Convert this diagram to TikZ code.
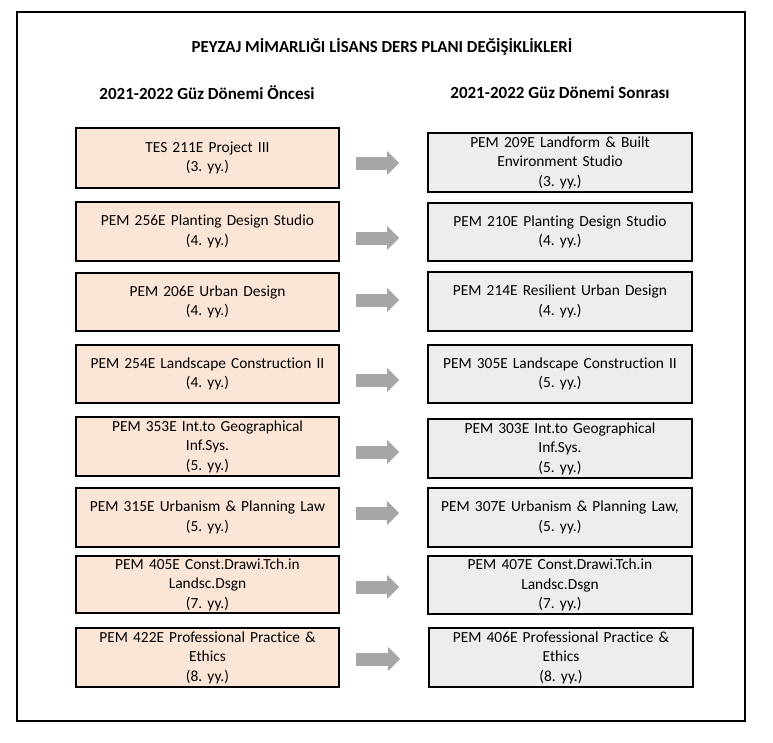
\documentclass[tikz,border=0pt]{standalone}
\usepackage{fontspec}
\setmainfont{Carlito}[Ligatures=NoCommon]
\usetikzlibrary{arrows.meta, positioning}
\frenchspacing
\definecolor{dpPeach}{HTML}{FBE5D6}
\definecolor{dpGrey}{HTML}{EDEDED}
\definecolor{dpArrow}{HTML}{A6A6A6}
\tikzset{
  dpold/.style={draw=black, line width=1.6pt, fill=dpPeach, align=center,
                inner sep=0pt, text width=255pt, minimum width=263pt,
                font=\fontsize{15.4}{19.5}\selectfont},
  dpnew/.style={dpold, fill=dpGrey, minimum width=264pt},
  dpmove/.style={draw=dpArrow, line width=13pt, -{Triangle[length=12pt,width=23pt]},
                 shorten <=16pt, shorten >=28pt},
  dphead/.style={font=\fontsize{17}{20}\selectfont\bfseries},
}

\begin{document}
\begin{tikzpicture}[x=1pt, y={(0pt,-1pt)}]
\useasboundingbox (0,0) rectangle (773,742);
\draw[line width=1.8pt] (17,12) rectangle (745,721);

\node[dphead, font=\fontsize{16.8}{20}\selectfont\bfseries] (title) at (382,47) {PEYZAJ MİMARLIĞI LİSANS DERS PLANI DEĞİŞİKLİKLERİ};
\node[dphead] (hold) at (207,93) {2021-2022 Güz Dönemi Öncesi};
\node[dphead] (hnew) at (560,93) {2021-2022 Güz Dönemi Sonrası};

% before
\node[dpold, minimum height=60pt] (o1) at (207.5,158) {TES 211E Project III\\(3. yy.)};
\node[dpold, minimum height=59pt] (o2) at (207.5,231.5) {PEM 256E Planting Design Studio\\(4. yy.)};
\node[dpold, minimum height=58pt] (o3) at (207.5,302) {PEM 206E Urban Design\\(4. yy.)};
\node[dpold, minimum height=58pt] (o4) at (207.5,374) {PEM 254E Landscape Construction II\\(4. yy.)};
\node[dpold, minimum height=59pt] (o5) at (207.5,446.5) {PEM 353E Int.to Geographical\\Inf.Sys.\\(5. yy.)};
\node[dpold, minimum height=59pt] (o6) at (207.5,517.5) {PEM 315E Urbanism \& Planning Law\\(5. yy.)};
\node[dpold, minimum height=57pt] (o7) at (207.5,584.5) {PEM 405E Const.Drawi.Tch.in\\Landsc.Dsgn\\(7. yy.)};
\node[dpold, minimum height=59pt] (o8) at (207.5,657.5) {PEM 422E Professional Practice \&\\Ethics\\(8. yy.)};

% after
\node[dpnew, minimum height=59pt] (n1) at (560,162.5) {PEM 209E Landform \& Built\\Environment Studio\\(3. yy.)};
\node[dpnew, minimum height=58pt] (n2) at (560,232) {PEM 210E Planting Design Studio\\(4. yy.)};
\node[dpnew, minimum height=59pt] (n3) at (560,301.5) {PEM 214E Resilient Urban Design\\(4. yy.)};
\node[dpnew, minimum height=58pt] (n4) at (560,374) {PEM 305E Landscape Construction II\\(5. yy.)};
\node[dpnew, minimum height=59pt] (n5) at (560,448.5) {PEM 303E Int.to Geographical\\Inf.Sys.\\(5. yy.)};
\node[dpnew, minimum height=59pt] (n6) at (560,517.5) {PEM 307E Urbanism \& Planning Law,\\(5. yy.)};
\node[dpnew, minimum height=58pt] (n7) at (560,585) {PEM 407E Const.Drawi.Tch.in\\Landsc.Dsgn\\(7. yy.)};
\node[dpnew, minimum height=59pt] (n8) at (561,657.5) {PEM 406E Professional Practice \&\\Ethics\\(8. yy.)};

\draw[dpmove, transform canvas={yshift=-5pt}] (o1.east) -- (o1.east -| n1.west);
\draw[dpmove, transform canvas={yshift=-6.5pt}] (o2.east) -- (o2.east -| n2.west);
\draw[dpmove, transform canvas={yshift=2pt}] (o3.east) -- (o3.east -| n3.west);
\draw[dpmove, transform canvas={yshift=-6pt}] (o4.east) -- (o4.east -| n4.west);
\draw[dpmove, transform canvas={yshift=-5.5pt}] (o5.east) -- (o5.east -| n5.west);
\draw[dpmove, transform canvas={yshift=4.5pt}] (o6.east) -- (o6.east -| n6.west);
\draw[dpmove, transform canvas={yshift=-2.5pt}] (o7.east) -- (o7.east -| n7.west);
\draw[dpmove, transform canvas={yshift=-1.5pt}] (o8.east) -- (o8.east -| n8.west);
\end{tikzpicture}
\end{document}
